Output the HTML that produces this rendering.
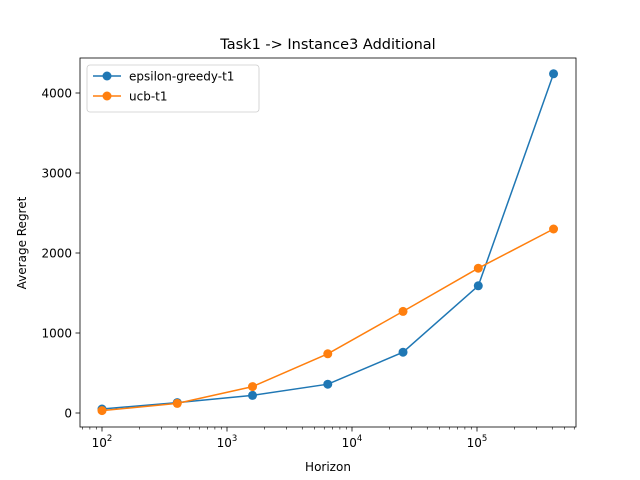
<!DOCTYPE html>
<html><head><meta charset="utf-8"><style>body{margin:0;background:#fff}svg{display:block;font-family:"DejaVu Sans","Liberation Sans",sans-serif}</style></head>
<body>
<svg id="c" width="640" height="480"></svg>
<script>
const horizons=[100,400,1600,6400,25600,102400,409600];
const egreedy=[50,130,220,360,760,1590,4240];
const ucb=[30,120,330,740,1270,1810,2300];
const yTicks=[0,1000,2000,3000,4000];
const xDecades=[2,3,4,5];
const L=80,R=576,T=58,B=427;
const lx0=1.824,lx1=5.792,y0=-175,y1=4437.5;
const X=v=>L+(Math.log10(v)-lx0)/(lx1-lx0)*(R-L);
const Y=v=>B-(v-y0)/(y1-y0)*(B-T);
const svg=document.getElementById('c');const NS='http://www.w3.org/2000/svg';
function el(t,a,p){const e=document.createElementNS(NS,t);for(const k in a)e.setAttribute(k,a[k]);(p||svg).appendChild(e);return e;}
const title=el('text',{x:328,y:49,'text-anchor':'middle','font-size':14.5});title.textContent='Task1 -> Instance3 Additional';


for(const d of xDecades){const x=X(Math.pow(10,d));el('line',{x1:x,x2:x,y1:B,y2:B+4.5,stroke:'#000','stroke-width':0.8});
const t=el('text',{x:x,y:B+20,'text-anchor':'middle','font-size':12});t.textContent='10';
const s=el('tspan',{dy:-6,'font-size':8.5},t);s.textContent=d;

}
for(let d=1;d<=5;d++)for(let m=2;m<=9;m++){const v=m*Math.pow(10,d);const lv=Math.log10(v);if(lv<lx0||lv>lx1)continue;const x=X(v);el('line',{x1:x,x2:x,y1:B,y2:B+2.5,stroke:'#000','stroke-width':0.6});}
for(const v of yTicks){const y=Y(v);el('line',{x1:L,x2:L-4.5,y1:y,y2:y,stroke:'#000','stroke-width':0.8});
const t=el('text',{x:L-8,y:y+4.5,'text-anchor':'end','font-size':12});t.textContent=v;

}
const xl=el('text',{x:328,y:471,'text-anchor':'middle','font-size':12});xl.textContent='Horizon';


const yl=el('text',{x:0,y:0,'text-anchor':'middle','font-size':12,transform:'translate(26,243) rotate(-90)'});yl.textContent='Average Regret';


function series(vals,col,name){const g=el('g',{});


el('polyline',{points:horizons.map((h,i)=>X(h)+','+Y(vals[i])).join(' '),fill:'none',stroke:col,'stroke-width':1.5},g);
horizons.forEach((h,i)=>{const c=el('circle',{cx:X(h),cy:Y(vals[i]),r:4.5,fill:col},g);

});}
series(egreedy,'#1f77b4','epsilon-greedy-series');
series(ucb,'#ff7f0e','ucb-series');
el('rect',{x:L,y:T,width:R-L,height:B-T,fill:'none',stroke:'#000','stroke-width':0.8});
const lg=el('g',{});


el('rect',{x:87,y:65,width:172,height:47,rx:3,fill:'#fff',stroke:'#ccc','stroke-width':0.8},lg);
[['epsilon-greedy-t1','#1f77b4'],['ucb-t1','#ff7f0e']].forEach((e,i)=>{const y=76+i*20;
el('line',{x1:93,x2:121,y1:y,y2:y,stroke:e[1],'stroke-width':1.5},lg);
el('circle',{cx:107,cy:y,r:4.5,fill:e[1]},lg);
const t=el('text',{x:129,y:y+4.5,'font-size':12},lg);t.textContent=e[0];

});
</script>
</body></html>
